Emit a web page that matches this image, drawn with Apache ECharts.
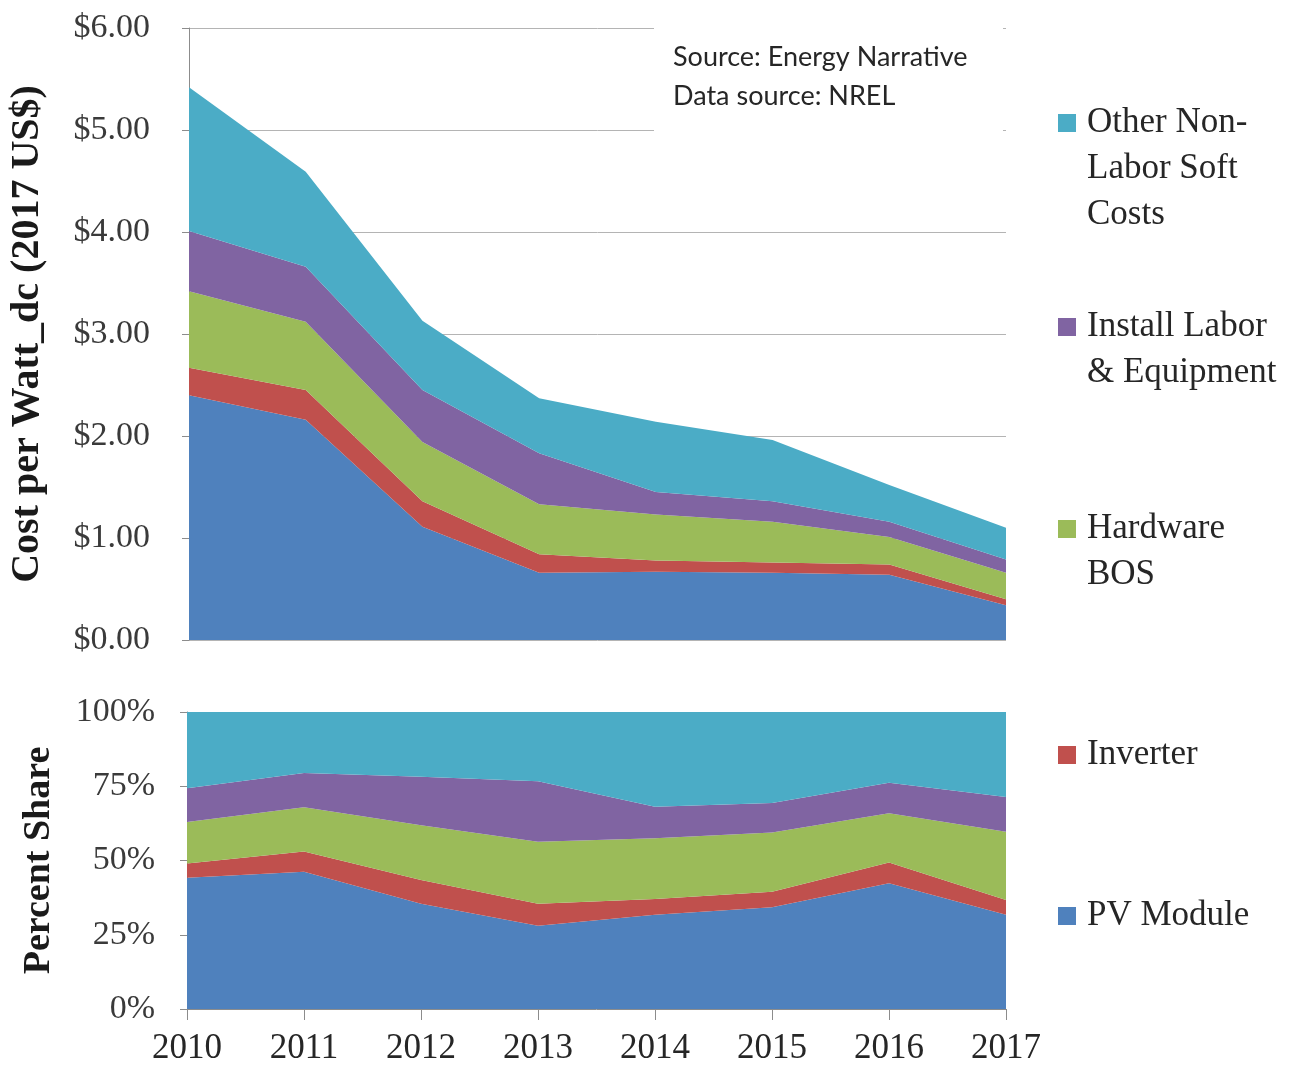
<!DOCTYPE html>
<html>
<head>
<meta charset="utf-8">
<script src="https://cdn.jsdelivr.net/npm/echarts@6/dist/echarts.min.js"></script>
<style>
html,body{margin:0;padding:0;background:#fff;}
#chart{width:1302px;height:1072px;}
</style>
</head>
<body>
<div id="chart"></div>
<script>
// ---- data ----
var years = ['2010','2011','2012','2013','2014','2015','2016','2017'];
var seriesNames = ['PV Module','Inverter','Hardware BOS','Install Labor & Equipment','Other Non-Labor Soft Costs'];
// cost per watt (2017 US$), stacked layers
var pvModule     = [2.40, 2.16, 1.11, 0.66, 0.67, 0.66, 0.64, 0.34];
var inverter     = [0.27, 0.29, 0.25, 0.18, 0.11, 0.10, 0.10, 0.06];
var hardwareBos  = [0.75, 0.67, 0.58, 0.49, 0.45, 0.40, 0.27, 0.26];
var installLabor = [0.59, 0.54, 0.51, 0.50, 0.22, 0.20, 0.15, 0.13];
var otherSoft    = [1.41, 0.93, 0.68, 0.54, 0.69, 0.60, 0.36, 0.31];
// percent share (%)
var pvShare      = [44.2, 46.2, 35.4, 28.0, 31.7, 34.3, 42.3, 31.7];
var inverterShare= [4.8, 6.8, 8.0, 7.4, 5.3, 5.2, 7.0, 5.0];
var hardwareShare= [14.0, 14.9, 18.5, 20.9, 20.5, 19.9, 16.6, 23.0];
var installShare = [11.3, 11.6, 16.3, 20.4, 10.6, 10.0, 10.3, 11.7];
var otherShare   = [25.7, 20.5, 21.8, 23.3, 31.9, 30.6, 23.8, 28.6];
// axis ticks
var costTicks  = [0, 1, 2, 3, 4, 5, 6];
var shareTicks = [0, 25, 50, 75, 100];

var colors = ['#4F81BD','#C0504D','#9BBB59','#8064A2','#4BACC6'];
var legendLines = {
  'Other Non-Labor Soft Costs': ['Other Non-','Labor Soft','Costs'],
  'Install Labor & Equipment': ['Install Labor','& Equipment'],
  'Hardware BOS': ['Hardware','BOS'],
  'Inverter': ['Inverter'],
  'PV Module': ['PV Module']
};
var legendTops = {
  'Other Non-Labor Soft Costs': 8,
  'Install Labor & Equipment': 258,
  'Hardware BOS': 460,
  'Inverter': 732,
  'PV Module': 893
};

var SERIF = '"Liberation Serif", "Times New Roman", serif';
var costData = [pvModule, inverter, hardwareBos, installLabor, otherSoft];
var shareData = [pvShare, inverterShare, hardwareShare, installShare, otherShare];

var series = [];
seriesNames.forEach(function(n, i){
  series.push({
    name: n, type: 'line', stack: 'cost', xAxisIndex: 0, yAxisIndex: 0,
    data: costData[i], symbol: 'none', silent: true,
    lineStyle: {width: 0}, areaStyle: {color: colors[i], opacity: 1},
    itemStyle: {color: colors[i]}, emphasis: {disabled: true}, z: 2
  });
});
seriesNames.forEach(function(n, i){
  series.push({
    name: n, type: 'line', stack: 'share', xAxisIndex: 1, yAxisIndex: 1,
    data: shareData[i], symbol: 'none', silent: true,
    lineStyle: {width: 0}, areaStyle: {color: colors[i], opacity: 1},
    itemStyle: {color: colors[i]}, emphasis: {disabled: true}, z: 2
  });
});

var legends = seriesNames.slice().reverse().map(function(n){
  return {
    data: [n], left: 1058, top: legendTops[n], padding: 0, orient: 'vertical',
    icon: 'rect', itemWidth: 18, itemHeight: 18, selectedMode: false,
    formatter: function(name){
      var lines = legendLines[name];
      var pad = '';
      for (var k = 1; k < lines.length; k++) pad += '{s| }\n';
      return pad + lines.map(function(l){ return '{t|' + l + '}'; }).join('\n');
    },
    textStyle: {
      fontFamily: SERIF, fontSize: 35, color: '#262626', lineHeight: 46,
      rich: {
        t: {fontFamily: SERIF, fontSize: 35, color: '#262626', lineHeight: 46, padding: [0,0,0,6]},
        s: {fontFamily: SERIF, fontSize: 35, lineHeight: 46}
      }
    }
  };
});

var option = {
  backgroundColor: '#ffffff',
  animation: false,
  color: colors,
  legend: legends,
  grid: [
    {left: 187, right: 296, top: 28, height: 612, containLabel: false},
    {left: 187, right: 296, top: 712, height: 297, containLabel: false}
  ],
  xAxis: [
    {type: 'category', gridIndex: 0, data: years, boundaryGap: false,
     axisLine: {show: false}, axisTick: {show: false}, axisLabel: {show: false}, splitLine: {show: false}},
    {type: 'category', gridIndex: 1, data: years, boundaryGap: false,
     axisLine: {show: true, lineStyle: {color: '#8c8c8c', width: 1}},
     axisTick: {show: true, length: 11, lineStyle: {color: '#8c8c8c'}},
     axisLabel: {fontFamily: SERIF, fontSize: 35, color: '#262626', margin: 22},
     splitLine: {show: false}}
  ],
  yAxis: [
    {type: 'value', gridIndex: 0, min: costTicks[0], max: costTicks[costTicks.length-1], interval: 1,
     name: 'Cost per Watt_dc (2017 US$)', nameLocation: 'middle', nameGap: 141,
     nameTextStyle: {fontFamily: SERIF, fontSize: 40, fontWeight: 'bold', color: '#1a1a1a'},
     axisLine: {show: true, lineStyle: {color: '#8c8c8c', width: 1}},
     axisTick: {show: true, length: 7, lineStyle: {color: '#8c8c8c'}},
     axisLabel: {fontFamily: SERIF, fontSize: 34, color: '#3a3a3a', margin: 39,
       formatter: function(v){ return '$' + v.toFixed(2); }},
     splitLine: {show: true, lineStyle: {color: '#b4b4b4', width: 1}}},
    {type: 'value', gridIndex: 1, min: shareTicks[0], max: shareTicks[shareTicks.length-1], interval: 25,
     name: 'Percent Share', nameLocation: 'middle', nameGap: 129,
     nameTextStyle: {fontFamily: SERIF, fontSize: 38, fontWeight: 'bold', color: '#1a1a1a'},
     axisLine: {show: true, lineStyle: {color: '#8c8c8c', width: 1}},
     axisTick: {show: true, length: 7, lineStyle: {color: '#8c8c8c'}},
     axisLabel: {fontFamily: SERIF, fontSize: 34, color: '#3a3a3a', margin: 32,
       formatter: function(v){ return v + '%'; }},
     splitLine: {show: false}}
  ],
  graphic: [
    {type: 'rect', left: 654, top: 24, shape: {width: 349, height: 112}, style: {fill: '#ffffff'}, z: 10, silent: true},
    {type: 'text', left: 673, top: 44, z: 11, silent: true,
     style: {text: 'Source: Energy Narrative', fontFamily: 'Lato, "Open Sans", sans-serif', fontSize: 27, fill: '#262626'}},
    {type: 'text', left: 673, top: 83, z: 11, silent: true,
     style: {text: 'Data source: NREL', fontFamily: 'Lato, "Open Sans", sans-serif', fontSize: 27, fill: '#262626'}}
  ],
  series: series
};

var chart = echarts.init(document.getElementById('chart'), null, {renderer: 'canvas'});
chart.setOption(option);
</script>
</body>
</html>
